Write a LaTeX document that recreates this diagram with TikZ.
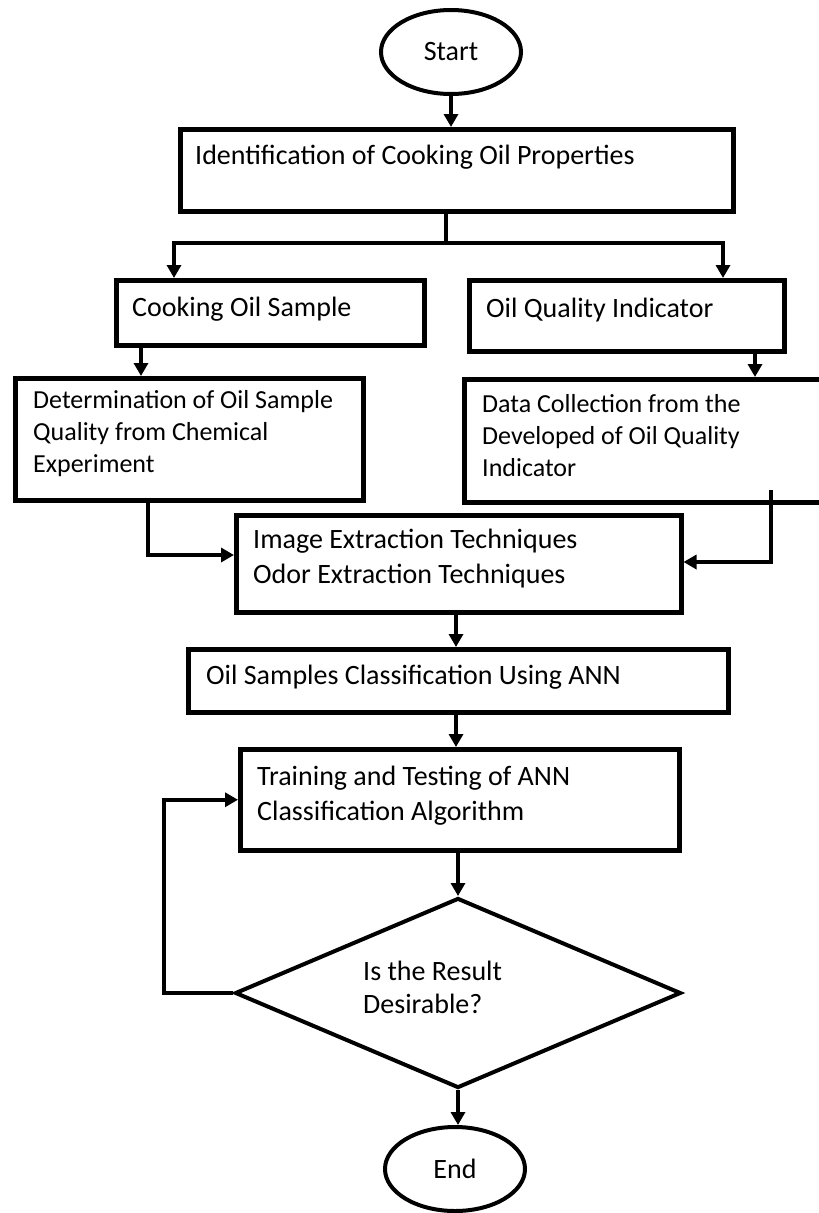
\documentclass[tikz,border=0pt]{standalone}
\usepackage{fontspec}
\setmainfont{Carlito}
\usetikzlibrary{arrows.meta,shapes.geometric}
\begin{document}
\begin{tikzpicture}[x=1pt,y=-1pt,
  txt/.style={font=\fontsize{28}{33}\selectfont, inner sep=0pt, align=left, anchor=base west},
  box/.style={draw, line width=4.5pt, rectangle, anchor=north west, inner sep=0pt},
  oval/.style={draw, ellipse, line width=4pt, inner sep=0pt, minimum width=140pt, minimum height=84pt, font=\fontsize{28}{33}\selectfont},
  dia/.style={draw, diamond, line width=4pt, inner sep=0pt, minimum width=446pt, minimum height=190pt},
  arr/.style={line width=3.5pt, -{Triangle[length=13pt,width=14pt]}},
  conn/.style={line width=3.5pt}]
\useasboundingbox (0,0) rectangle (819,1213);

% shapes
\node[oval] (start) at (451,52) {Start};
\node[box, minimum width=553pt, minimum height=82pt] (ident) at (178,127) {};
\node[box, minimum width=308pt, minimum height=65pt] (cos) at (114,278) {};
\node[box, minimum width=315pt, minimum height=71pt] (oqi) at (467,278) {};
\node[box, minimum width=348pt, minimum height=122pt] (det) at (13,376) {};
\node[box, minimum width=362pt, minimum height=123pt] (dc) at (462,377) {};
\node[box, minimum width=445pt, minimum height=97pt] (img) at (234,513) {};
\node[box, minimum width=540pt, minimum height=63pt] (osc) at (186,647) {};
\node[box, minimum width=439pt, minimum height=101pt] (tr) at (238,747) {};
\node[dia] (dec) at (458,993) {};
\node[oval] (end) at (455,1169) {End};

% texts (multi-line nodes are placed by the baseline of their last line)
\node[txt] (identT) at (195,164) {Identification of Cooking Oil Properties};
\node[txt] (cosT) at (132,316) {Cooking Oil Sample};
\node[txt] (oqiT) at (486,317) {Oil Quality Indicator};
\node[txt, font=\fontsize{26}{32}\selectfont] (detT) at (33,472) {Determination of Oil Sample\\Quality from Chemical\\Experiment};
\node[txt, font=\fontsize{26}{32}\selectfont] (dcT) at (482,476) {Data Collection from the\\Developed of Oil Quality\\Indicator};
\node[txt, font=\fontsize{28}{35}\selectfont] (imgT) at (253,583) {Image Extraction Techniques\\Odor Extraction Techniques};
\node[txt] (oscT) at (206,684) {Oil Samples Classification Using ANN};
\node[txt, font=\fontsize{28}{35}\selectfont] (trT) at (257,820) {Training and Testing of ANN\\Classification Algorithm};
\node[txt] (decT) at (363,1013) {Is the Result\\Desirable?};

% connector helper coordinates
\coordinate (sp) at (446,243);
\coordinate (bl) at (174,243);
\coordinate (br) at (723,243);
\coordinate (cd) at (141,0);
\coordinate (od) at (755,0);
\coordinate (dl) at (148,555);
\coordinate (dcout) at (771,490);
\coordinate (dr) at (771,562);
\coordinate (m) at (456,0);
\coordinate (fb) at (164,0);

% connectors
\draw[arr] (start.south) -- (start.south |- ident.north);
\draw[conn] (ident.south -| sp) -- (sp);
\draw[arr] (sp) -- (bl) -- (bl |- cos.north);
\draw[arr] (sp) -- (br) -- (br |- oqi.north);
\draw[arr] (cos.south -| cd) -- (det.north -| cd);
\draw[arr] (oqi.south -| od) -- (dc.north -| od);
\draw[arr] (det.south -| dl) |- (img.west |- dl);
\draw[arr] (dcout) -- (dr) -- (img.east |- dr);
\draw[arr] (img.south -| m) -- (osc.north -| m);
\draw[arr] (osc.south -| m) -- (tr.north -| m);
\draw[arr] (tr.south -| dec) -- (dec.north);
\draw[arr] (dec.south) -- (dec.south |- end.north);
\draw[arr] (dec.west) -- (dec.west -| fb) -- (fb |- tr.west) -- (tr.west);
\end{tikzpicture}
\end{document}
